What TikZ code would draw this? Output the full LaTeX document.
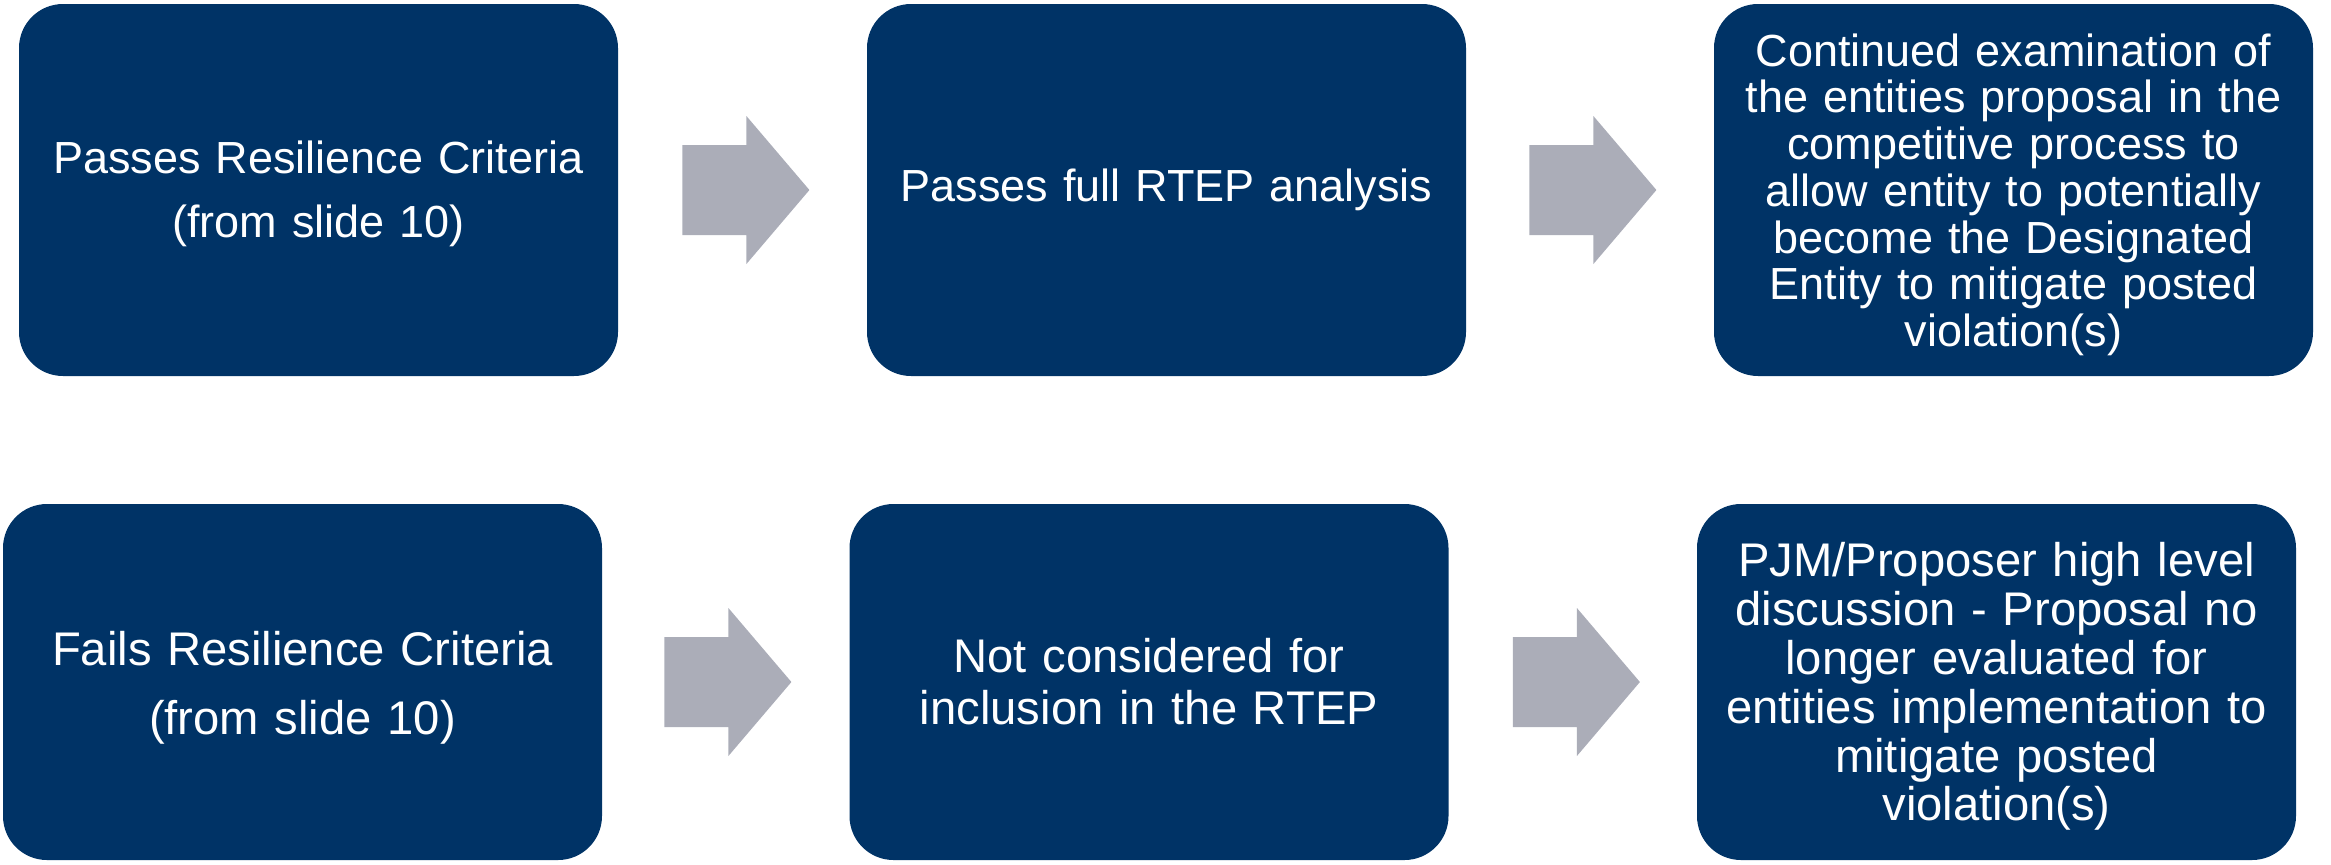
\documentclass[tikz,border=0pt]{standalone}
\usepackage{fontspec}
\setmainfont{Liberation Sans}
\definecolor{navy}{RGB}{0,51,102}
\definecolor{arrowgray}{RGB}{171,173,184}
\newcommand{\mystrut}[1]{\rule{0pt}{#1}}
\begin{document}
\begin{tikzpicture}[x=0.5pt,y=-0.5pt,
  stepbox/.style={fill=navy, text=white, rounded corners=22pt, inner sep=0pt,
    minimum width=299.5pt, align=center, text width=292pt},
  toprow/.style={minimum height=186pt},
  botrow/.style={minimum height=178pt},
  pics/blockarr/.style={code={
    \fill[arrowgray] (0,-45) -- (64,-45) -- (64,-74) -- (127,0) -- (64,74) -- (64,45) -- (0,45) -- cycle;}}]
\useasboundingbox (0,0) rectangle (2331,864);
\node[stepbox,toprow,font=\fontsize{22.5}{32.25}\selectfont] (b1) at (318.5,190)
  {\mystrut{20.1pt}Passes Resilience Criteria\\(from slide 10)};
\node[stepbox,toprow,font=\fontsize{22.5}{27}\selectfont] (b2) at (1166.5,190)
  {Passes full RTEP analysis};
\node[stepbox,toprow,font=\fontsize{22.5}{23.35}\selectfont] (b3) at (2013.5,190)
  {\mystrut{21pt}Continued examination of\\the entities proposal in the\\competitive process to\\allow entity to potentially\\become the Designated\\Entity to mitigate posted\\violation(s)};
\node[stepbox,botrow,font=\fontsize{23.6}{34.5}\selectfont] (b4) at (302.5,682)
  {\mystrut{22.4pt}Fails Resilience Criteria\\(from slide 10)};
\node[stepbox,botrow,font=\fontsize{23.6}{26}\selectfont] (b5) at (1149,682)
  {Not considered for\\inclusion in the RTEP};
\node[stepbox,botrow,font=\fontsize{23.6}{24.4}\selectfont] (b6) at (1996.5,682)
  {\mystrut{21.7pt}PJM/Proposer high level\\discussion - Proposal no\\longer evaluated for\\entities implementation to\\mitigate posted\\violation(s)};
\pic at ([xshift=32pt]b1.east) {blockarr};
\pic at ([xshift=31.5pt]b2.east) {blockarr};
\pic at ([xshift=31pt]b4.east) {blockarr};
\pic at ([xshift=32pt]b5.east) {blockarr};
\end{tikzpicture}
\end{document}
